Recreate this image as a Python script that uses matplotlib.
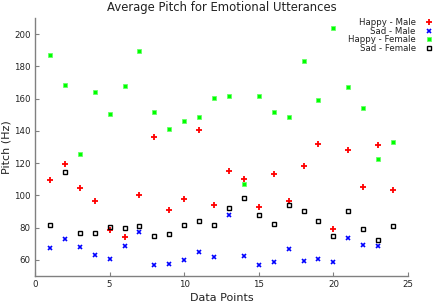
import matplotlib
matplotlib.use("Agg")
import matplotlib.pyplot as plt

x_points = list(range(1, 25))

happy_male = [109.5, 119.5, 104.7, 96.5, 78.6, 74.3, 100.4, 136.0, 91.0, 97.7, 140.3, 93.8,
              115.2, 110.3, 93.0, 113.3, 96.5, 118.3, 131.9, 79.0, 128.4, 105.5, 131.2, 103.3]
sad_male = [67.5, 72.8, 68.1, 63.1, 60.5, 68.7, 77.5, 57.0, 57.6, 60.0, 65.0, 61.7,
            88.0, 62.3, 57.1, 58.6, 67.0, 59.6, 60.7, 58.4, 73.6, 69.1, 68.9]
happy_female = [187.2, 168.3, 125.7, 163.8, 150.2, 168.1, 189.3, 151.9, 140.9, 145.9, 148.8, 160.3,
                161.5, 107.2, 161.5, 151.9, 148.3, 183.3, 159.0, 203.9, 166.9, 153.9, 122.6, 132.9]
sad_female = [81.5, 114.8, 76.5, 76.5, 80.2, 79.6, 81.2, 75.1, 76.0, 81.7, 84.1, 81.9,
              92.3, 98.3, 87.8, 82.1, 94.2, 90.1, 84.4, 74.9, 90.1, 79.4, 72.2, 81.2]

series_labels = ["Happy - Male", "Sad - Male", "Happy - Female", "Sad - Female"]
x_ticks = [0, 5, 10, 15, 20, 25]
y_ticks = [60, 80, 100, 120, 140, 160, 180, 200]

fig = plt.figure(figsize=(4.36, 3.07), dpi=100)
ax = fig.add_axes([35/436, 1-276/307, (408-35)/436, (276-18)/307])

ax.plot(x_points, happy_male, linestyle='none', marker='+', color='#ff0000', ms=4.5, mew=1.3,
        label=series_labels[0])
ax.plot(x_points[:len(sad_male)], sad_male, linestyle='none', marker='x', color='#0000ff', ms=3.2, mew=1.2,
        label=series_labels[1])
ax.plot(x_points, happy_female, linestyle='none', marker='s', color='#00ff00', ms=3.0, mew=0.6,
        mec='#66ff66', label=series_labels[2])
ax.plot(x_points, sad_female, linestyle='none', marker='s', mfc='none', mec='#000000', ms=3.2, mew=1.0,
        label=series_labels[3])

ax.set_xlim(0, 25)
ax.set_ylim(50, 210)
ax.set_xticks(x_ticks)
ax.set_yticks(y_ticks)

for s in ['top', 'right']:
    ax.spines[s].set_visible(False)
for s in ['left', 'bottom']:
    ax.spines[s].set_color('#808080')
    ax.spines[s].set_linewidth(1.0)
ax.tick_params(direction='in', length=3, width=0.8, color='#808080', labelsize=6.2,
               labelcolor='#222222', pad=3)

ax.set_title("Average Pitch for Emotional Utterances", fontsize=8.4, color='#222222', pad=5)
ax.set_xlabel("Data Points", fontsize=8, color='#222222', labelpad=3)
ax.set_ylabel("Pitch (Hz)", fontsize=8, color='#222222', labelpad=2)

leg = fig.legend(loc='upper right', bbox_to_anchor=(439/436, 1-12/307), frameon=False,
                 markerfirst=False, fontsize=6.2, handlelength=1.0, handletextpad=1.0,
                 labelspacing=-0.05, borderpad=0.2, labelcolor='#222222')

fig.savefig("out.png", dpi=100)
